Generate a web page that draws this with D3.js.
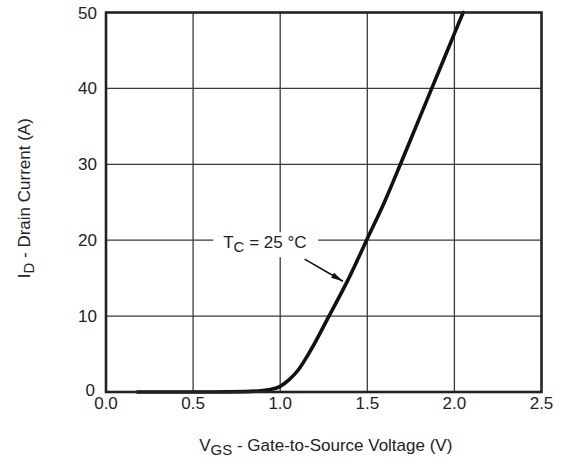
<!DOCTYPE html>
<html>
<head>
<meta charset="utf-8">
<script src="https://cdn.jsdelivr.net/npm/d3@7"></script>
<style>
  body { margin: 0; background: #fff; }
  svg text { font-family: "Liberation Sans", Arial, sans-serif; fill: #222; }
</style>
</head>
<body>
<svg id="chart" width="564" height="469"></svg>
<script>
// transfer characteristic
var vgs = [0.18, 0.6, 0.8, 0.9, 0.95, 1.0, 1.05, 1.1, 1.17, 1.28, 1.39, 1.5, 1.6, 1.69, 1.78, 1.87, 1.96, 2.05];
var id  = [0, 0, 0.05, 0.2, 0.35, 0.75, 1.6, 2.8, 5.3, 10, 14.8, 20.2, 25.1, 30, 35, 40, 45, 50];
var xTicks = [0, 0.5, 1.0, 1.5, 2.0, 2.5];
var yTicks = [0, 10, 20, 30, 40, 50];
var label = { t: "T", sub: "C", rest: " = 25 °C", v: 1.02, i: 20 };
var arrowFrom = [1.14, 17.5], arrowTo = [1.36, 14.6];

var margin = {top: 12.5, right: 22.5, bottom: 77, left: 106};
var svgw = 564, svgh = 469;
var width = svgw - margin.left - margin.right;
var height = svgh - margin.top - margin.bottom;

var svg = d3.select("#chart");
svg.append("defs").append("marker")
    .attr("id", "arr")
    .attr("viewBox", "0 0 12 6")
    .attr("refX", 12).attr("refY", 3)
    .attr("markerWidth", 12).attr("markerHeight", 6)
    .attr("markerUnits", "userSpaceOnUse")
    .attr("orient", "auto")
  .append("path")
    .attr("d", "M0,0 L12,3 L0,6 Z")
    .attr("fill", "#111");

var g = svg.append("g").attr("transform", "translate(" + margin.left + "," + margin.top + ")");

var x = d3.scaleLinear().domain([0, 2.5]).range([0, width]);
var y = d3.scaleLinear().domain([0, 50]).range([height, 0]);

// grid
g.append("g").selectAll("line")
  .data(xTicks.slice(1, -1))
  .enter().append("line")
    .attr("x1", function(d) { return x(d); }).attr("x2", function(d) { return x(d); })
    .attr("y1", 0).attr("y2", height)
    .attr("stroke", "#3a3a3a").attr("stroke-width", 1.3);
g.append("g").selectAll("line")
  .data(yTicks.slice(1, -1))
  .enter().append("line")
    .attr("y1", function(d) { return y(d); }).attr("y2", function(d) { return y(d); })
    .attr("x1", 0).attr("x2", width)
    .attr("stroke", "#3a3a3a").attr("stroke-width", 1.3);

// annotation label, white box breaks the grid
var lab = g.append("g").attr("transform", "translate(" + x(label.v) + "," + y(label.i) + ")");
lab.append("rect")
    .attr("x", -70.5).attr("y", -8)
    .attr("width", 105).attr("height", 25)
    .attr("fill", "#fff");
var lt = lab.append("text")
    .attr("x", -60.5).attr("y", 8)
    .attr("font-size", 17);
lt.append("tspan").text(label.t);
lt.append("tspan").attr("dy", 4).attr("font-size", 15).text(label.sub);
lt.append("tspan").attr("dy", -4).text(label.rest);

g.append("line")
    .attr("x1", x(arrowFrom[0])).attr("y1", y(arrowFrom[1]))
    .attr("x2", x(arrowTo[0])).attr("y2", y(arrowTo[1]))
    .attr("stroke", "#111").attr("stroke-width", 1.6)
    .attr("marker-end", "url(#arr)");

// curve
var line = d3.line()
    .x(function(d, i) { return x(vgs[i]); })
    .y(function(d) { return y(d); })
    .curve(d3.curveMonotoneX);
g.append("path")
    .datum(id)
    .attr("d", line)
    .attr("fill", "none")
    .attr("stroke", "#111")
    .attr("stroke-width", 3.6)
    .attr("stroke-linecap", "round");

// frame
g.append("rect")
    .attr("x", 0).attr("y", 0)
    .attr("width", width).attr("height", height)
    .attr("fill", "none").attr("stroke", "#222").attr("stroke-width", 2.6);

// tick labels
g.append("g").selectAll("text")
  .data(xTicks)
  .enter().append("text")
    .attr("x", function(d) { return x(d); })
    .attr("y", height + 17)
    .attr("text-anchor", "middle")
    .attr("font-size", 17)
    .text(function(d) { return d3.format(".1f")(d); });
g.append("g").selectAll("text")
  .data(yTicks)
  .enter().append("text")
    .attr("x", function(d) { return d === 0 ? -11 : -9; })
    .attr("y", function(d) { return y(d) + (d === 0 ? 4 : 6); })
    .attr("text-anchor", "end")
    .attr("font-size", 17)
    .text(function(d) { return d; });

// axis titles
var xt = svg.append("text")
    .attr("x", margin.left + width / 2 + 2)
    .attr("y", 451)
    .attr("text-anchor", "middle")
    .attr("font-size", 17);
xt.append("tspan").text("V");
xt.append("tspan").attr("dy", 4).attr("font-size", 15).text("GS");
xt.append("tspan").attr("dy", -4).text(" - Gate-to-Source Voltage (V)");

var yt = svg.append("text")
    .attr("transform", "translate(30," + (margin.top + height / 2 - 4) + ") rotate(-90)")
    .attr("text-anchor", "middle")
    .attr("font-size", 17);
yt.append("tspan").text("I");
yt.append("tspan").attr("dy", 4).attr("font-size", 15).text("D");
yt.append("tspan").attr("dy", -4).text(" - Drain Current (A)");
</script>
</body>
</html>
